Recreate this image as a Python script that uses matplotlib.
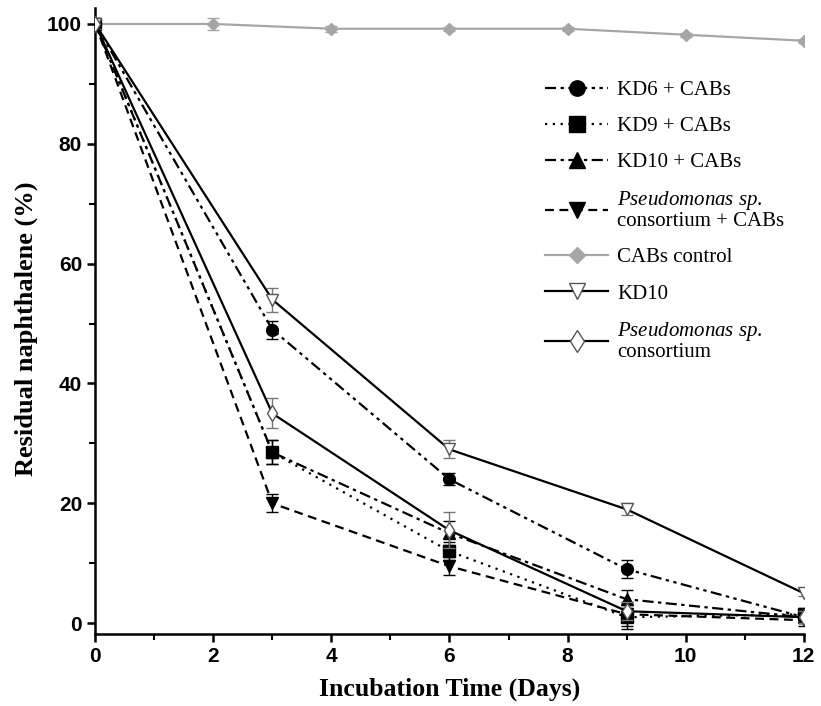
import matplotlib
matplotlib.use('Agg')
import matplotlib.pyplot as plt
from matplotlib.ticker import MultipleLocator

plt.rcParams['mathtext.fontset'] = 'custom'
plt.rcParams['mathtext.rm'] = 'Liberation Serif'
plt.rcParams['mathtext.it'] = 'Liberation Serif:italic'

# data
days = [0, 3, 6, 9, 12]
control_days = [0, 2, 4, 6, 8, 10, 12]

kd6_cabs = [100, 49, 24, 9, 1]
kd6_cabs_err = [0.8, 1.5, 1.0, 1.5, 0.8]
kd9_cabs = [100, 28.5, 12, 1, 1.5]
kd9_cabs_err = [0.8, 2.0, 1.5, 2.0, 1.0]
kd10_cabs = [100, 28.5, 15, 4, 1]
kd10_cabs_err = [0.8, 2.0, 2.0, 1.5, 1.0]
pseudo_cabs = [100, 20, 9.5, 1.5, 0.5]
pseudo_cabs_err = [0.8, 1.5, 1.5, 2.0, 1.0]
cabs_control = [100, 100, 99.2, 99.2, 99.2, 98.2, 97.2]
cabs_control_err = [0.5, 1.0, 0.5, 0.3, 0.3, 0.3, 0.3]
kd10 = [100, 54, 29, 19, 5]
kd10_err = [0.8, 2.0, 1.5, 1.0, 0.5]
pseudo = [100, 35, 15.5, 2, 1]
pseudo_err = [0.8, 2.5, 3.0, 1.5, 1.0]

fig = plt.figure(figsize=(8.21, 7.06), dpi=100)
ax = fig.add_axes([0.116, 0.102, 0.863, 0.887])

lw = 1.6
ax.errorbar(control_days, cabs_control, yerr=cabs_control_err, color='#a6a6a6', lw=lw,
            marker='D', ms=6, capsize=4, elinewidth=1, label='CABs control', zorder=2)
ax.errorbar(days, kd6_cabs, yerr=kd6_cabs_err, color='black', lw=lw, ls=(0, (5, 2, 1.5, 2, 1.5, 2)),
            marker='o', ms=8.5, capsize=4, elinewidth=1, label='KD6 + CABs', zorder=3)
ax.errorbar(days, kd9_cabs, yerr=kd9_cabs_err, color='black', lw=lw, ls=(0, (1, 2.5)),
            marker='s', ms=8.5, capsize=4, elinewidth=1, label='KD9 + CABs', zorder=3)
ax.errorbar(days, kd10_cabs, yerr=kd10_cabs_err, color='black', lw=lw, ls=(0, (5, 2, 1.5, 2)),
            marker='^', ms=8.5, capsize=4, elinewidth=1, label='KD10 + CABs', zorder=3)
ax.errorbar(days, pseudo_cabs, yerr=pseudo_cabs_err, color='black', lw=lw, ls=(0, (4, 2.5)),
            marker='v', ms=8.5, capsize=4, elinewidth=1,
            label='$\\it{Pseudomonas\\ sp.}$\nconsortium + CABs', zorder=3)
ax.errorbar(days, kd10, yerr=kd10_err, color='black', ecolor='#777777', lw=lw, ls='-',
            marker='v', ms=8.5, mfc='white', mec='#555555', mew=1, capsize=4, elinewidth=1,
            label='KD10', zorder=4)
ax.errorbar(days, pseudo, yerr=pseudo_err, color='black', ecolor='#777777', lw=lw, ls='-',
            marker='d', ms=8.5, mfc='white', mec='#555555', mew=1, capsize=4, elinewidth=1,
            label='$\\it{Pseudomonas\\ sp.}$\nconsortium', zorder=4)

ax.set_xlim(0, 12)
ax.set_ylim(-1.8, 102.7)
ax.xaxis.set_major_locator(MultipleLocator(2))
ax.xaxis.set_minor_locator(MultipleLocator(1))
ax.yaxis.set_major_locator(MultipleLocator(20))
ax.yaxis.set_minor_locator(MultipleLocator(10))
ax.spines['top'].set_visible(False)
ax.spines['right'].set_visible(False)
for s in ['left', 'bottom']:
    ax.spines[s].set_linewidth(1.8)
ax.tick_params(which='major', direction='out', length=6, width=1.8)
ax.tick_params(which='minor', direction='out', length=4, width=1.5)
for lab in ax.get_xticklabels() + ax.get_yticklabels():
    lab.set_fontfamily('Liberation Sans')
    lab.set_fontweight('bold')
    lab.set_fontsize(15)

ax.set_xlabel('Incubation Time (Days)', fontfamily='Liberation Serif', fontweight='bold', fontsize=18.5)
ax.set_ylabel('Residual naphthalene (%)', fontfamily='Liberation Serif', fontweight='bold', fontsize=19)
ax.xaxis.label.set_va('center')
ax.yaxis.label.set_va('center')
ax.xaxis.set_label_coords(0.5, -0.089)
ax.yaxis.set_label_coords(-0.097, 0.487)

# legend without error bars, in the reference order
handles, labels = ax.get_legend_handles_labels()
order = [1, 2, 3, 4, 0, 5, 6]
leg = ax.legend([handles[i].lines[0] for i in order], [labels[i] for i in order],
                loc='upper left', bbox_to_anchor=(0.609, 0.914), frameon=False,
                prop={'family': 'Liberation Serif', 'size': 15},
                handlelength=3.0, handletextpad=0.45, labelspacing=0.8, markerscale=1.3)
for t in leg.get_texts():
    t.set_linespacing(1.0)

fig.savefig('out.png', dpi=100)
